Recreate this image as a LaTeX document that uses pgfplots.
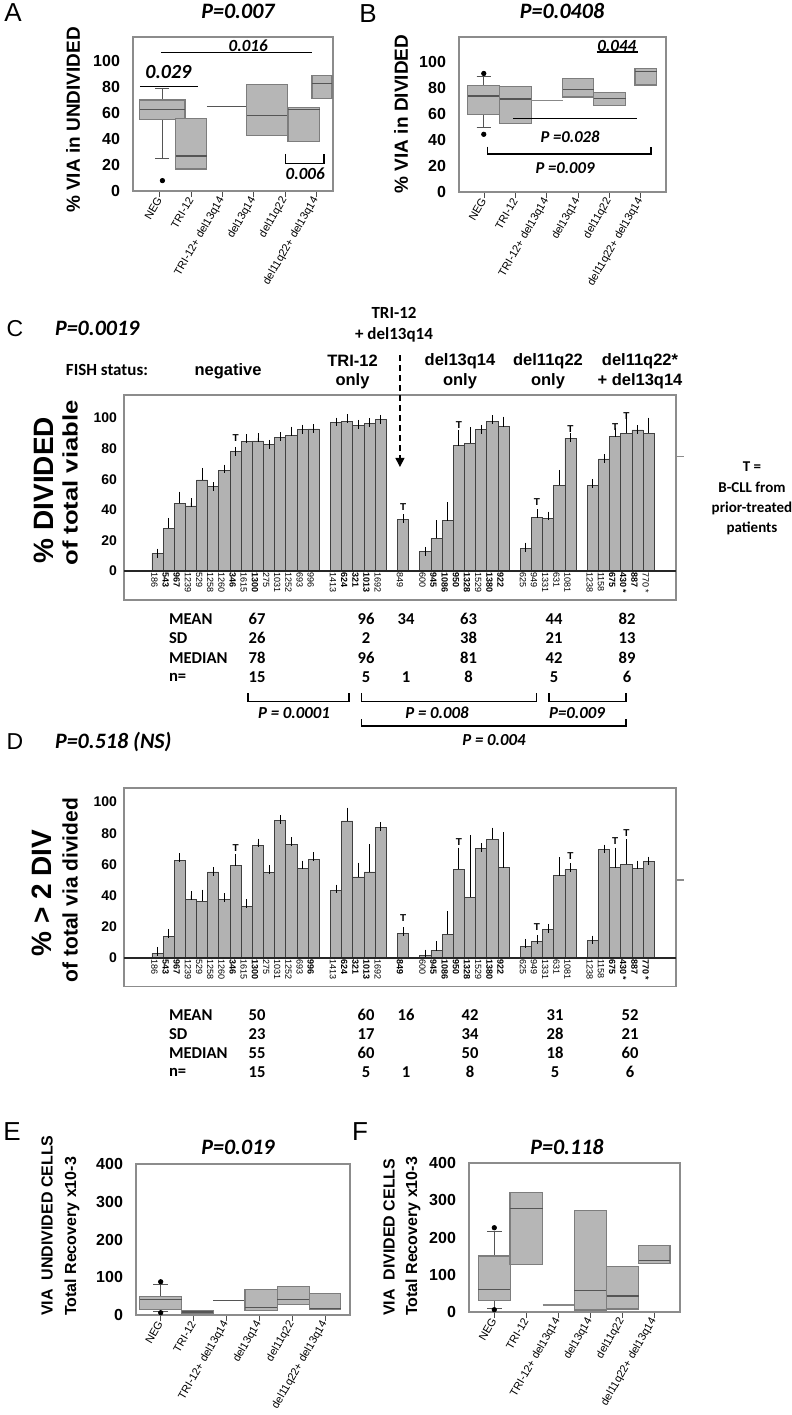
\documentclass[border=0pt]{standalone}
\usepackage{fontspec}
\setmainfont{Liberation Sans}
\newfontfamily\calib{Carlito}
\usepackage{graphicx}
\usepackage{pgfplots}
\pgfplotsset{compat=1.18}
\usepgfplotslibrary{statistics}
\usetikzlibrary{arrows.meta}
\definecolor{boxfill}{RGB}{182,182,182}
\definecolor{boxedge}{RGB}{125,125,125}
\definecolor{medline}{RGB}{85,85,85}
\definecolor{barfill}{RGB}{178,178,178}
\definecolor{frame}{RGB}{140,140,140}
\newcommand{\fs}[1]{\fontsize{#1}{#1}\selectfont}
\newcommand{\pv}{\calib\bfseries\itshape}
\pgfplotsset{
 boxax/.style={
  scale only axis, clip=false,
  axis line style={draw=frame, line width=0.6pt},
  ymin=0,
  xtick={0,...,5},
  xtick pos=left,
  xticklabels={NEG,TRI-12,TRI-12+ del13q14,del13q14,del11q22,del11q22+ del13q14},
  xticklabel style={rotate=60, anchor=east, font=\fs{5.5}, inner sep=0.5pt},
  tick align=outside,
  xtick style={draw=black!70, line width=0.5pt},
  major tick length=3pt,
  ytick style={draw=none},
  yticklabel style={font=\fs{8}\bfseries},
  /pgf/number format/assume math mode=true,
  boxplot/draw direction=y,
  boxplot/every box/.style={fill=boxfill, draw=boxedge, line width=0.6pt},
  boxplot/every median/.style={draw=medline, line width=0.6pt},
  boxplot/every whisker/.style={draw=medline, line width=0.5pt},
 },
 bx/.style={fill=boxfill, draw=boxedge, mark=*, mark size=1.1pt, mark options={fill=black, draw=black}},
 cdax/.style={
  scale only axis, clip=false,
  axis line style={draw=none},
  ymin=0, xmin=-3, xmax=46.45,
  ytick={0,20,...,100},
  tick style={draw=none},
  yticklabel style={font=\fs{7}\bfseries},
  xticklabel style={rotate=-90, anchor=west, font=\fs{4.5}, inner sep=0.3pt, yshift=-1.5pt},
  xtick={0,1,2,3,4,5,6,7,8,9,10,11,12,13,14,16,17,18,19,20,22,24,25,26,27,28,29,30,31,33,34,35,36,37,39,40,41,42,43,44},
  /pgf/number format/assume math mode=true,
 },
 barst/.style={ybar, bar width=1, fill=barfill, draw=black!75, line width=0.4pt,
   error bars/.cd, y dir=plus, y explicit,
   error bar style={black, line width=0.4pt},
   error mark options={black, mark size=2.2pt, line width=0.4pt}},
 tst/.style={only marks, black, mark=text, text mark={\fs{5}\bfseries T}},
}
\begin{document}
\begin{tikzpicture}
\path[use as bounding box] (0pt,0pt) rectangle (396pt,-707.5pt);

% ---------------- Panel A ----------------
\begin{axis}[boxax, at={(66.5pt,-95.5pt)}, anchor=south west, width=100pt, height=77pt,
  xmin=-0.86, xmax=5.53, ymax=118.5, ytick={0,20,...,100}]
\addplot[bx, boxplot prepared={draw position=0.08, box extend=1.44, lower whisker=25, lower quartile=55, median=63, upper quartile=70, upper whisker=79, whisker extend=0.45}] table[row sep=\\, y index=0] {y\\ 8\\};
\addplot[bx, boxplot prepared={draw position=1.0, box extend=1.0, lower whisker=17, lower quartile=17, median=27, upper quartile=56, upper whisker=56, whisker extend=0}] coordinates {};
\addplot[draw=medline, line width=0.6pt] coordinates {(1.5,65) (2.78,65)};
\addplot[bx, boxplot prepared={draw position=3.43, box extend=1.31, lower whisker=43, lower quartile=43, median=58, upper quartile=82, upper whisker=82, whisker extend=0}] coordinates {};
\addplot[bx, boxplot prepared={draw position=4.6, box extend=1.02, lower whisker=38, lower quartile=38, median=63, upper quartile=64, upper whisker=64, whisker extend=0}] coordinates {};
\addplot[bx, boxplot prepared={draw position=5.18, box extend=0.64, lower whisker=71, lower quartile=71, median=83, upper quartile=89, upper whisker=89, whisker extend=0}] coordinates {};
\draw[black, line width=0.6pt] (axis cs:0.03,106.4) -- (axis cs:4.85,106.4);
\node[font=\fs{8.5}\pv] at (axis cs:2.82,111.5) {0.016};
\node[font=\fs{10}\pv] at (axis cs:0.27,91.5) {0.029};
\draw[black, line width=0.6pt] (axis cs:-0.64,80.5) -- (axis cs:1.22,80.5);
\draw[black, line width=0.7pt] (axis cs:4.02,28.5) -- (axis cs:4.02,21.3) -- (axis cs:5.24,21.3) -- (axis cs:5.24,28.5);
\node[font=\fs{8.5}\pv] at (axis cs:4.64,13.5) {0.006};
\end{axis}

% ---------------- Panel B ----------------
\begin{axis}[boxax, at={(229.5pt,-96pt)}, anchor=south west, width=103.5pt, height=77.5pt,
  xmin=-0.8, xmax=5.8, ymax=119, ytick={0,20,...,100}]
\addplot[bx, boxplot prepared={draw position=-0.01, box extend=1.02, lower whisker=49.7, lower quartile=59.3, median=73.7, upper quartile=82, upper whisker=89, whisker extend=0.45}] table[row sep=\\, y index=0] {y\\ 91\\ 44.3\\};
\addplot[bx, boxplot prepared={draw position=1.005, box extend=1.01, lower whisker=52.8, lower quartile=52.8, median=71.4, upper quartile=80.7, upper whisker=80.7, whisker extend=0}] coordinates {};
\addplot[draw=medline!70, line width=0.6pt] coordinates {(1.51,70) (2.5,70)};
\addplot[bx, boxplot prepared={draw position=3.0, box extend=1.0, lower whisker=72.9, lower quartile=72.9, median=78.6, upper quartile=86.9, upper whisker=86.9, whisker extend=0}] coordinates {};
\addplot[bx, boxplot prepared={draw position=4.005, box extend=1.01, lower whisker=66.5, lower quartile=66.5, median=71.9, upper quartile=76.5, upper whisker=76.5, whisker extend=0}] coordinates {};
\addplot[bx, boxplot prepared={draw position=5.155, box extend=0.69, lower whisker=82.2, lower quartile=82.2, median=92.8, upper quartile=95, upper whisker=95, whisker extend=0}] coordinates {};
\node[font=\fs{8.5}\pv] at (axis cs:4.23,112.3) {0.044};
\draw[black, line width=0.6pt] (axis cs:3.59,107.5) -- (axis cs:4.92,107.5);
\draw[black, line width=0.6pt] (axis cs:0.93,56.2) -- (axis cs:4.89,56.2);
\node[font=\fs{8.3}\pv] at (axis cs:2.74,42.5) {P =0.028};
\draw[black, line width=0.7pt] (axis cs:0.1,34.8) -- (axis cs:0.1,29.1) -- (axis cs:5.32,29.1) -- (axis cs:5.32,34.8);
\node[font=\fs{8.3}\pv] at (axis cs:2.58,18) {P =0.009};
\end{axis}

% ---------------- Panel C ----------------
\begin{axis}[cdax, at={(62pt,-285.5pt)}, anchor=south west, width=276pt, height=88pt, ymax=115,
  xticklabels={186,\textbf{543},\textbf{967},1239,529,1258,1260,\textbf{346},1615,\textbf{1300},275,1031,1252,693,996,1413,\textbf{624},\textbf{321},\textbf{1013},1692,849,600,\textbf{945},\textbf{1086},\textbf{950},\textbf{1328},1529,\textbf{1380},\textbf{922},625,949,1331,631,1081,1238,1158,\textbf{675},\textbf{430 *},\textbf{887},770 *}]
\draw[frame, line width=0.6pt] (axis cs:-3,-19) rectangle (axis cs:46.45,115);
\addplot[barst] coordinates {
(0,11.5) +- (0,0.2) (1,27.9) +- (0,4) (2,44.2) +- (0,4.8) (3,42.5) +- (0,2.2) (4,59.5) +- (0,5)
(5,55) +- (0,0.2) (6,65.6) +- (0,1) (7,78) +- (0,0.2) (8,84.5) +- (0,2) (9,85) +- (0,2)
(10,82.5) +- (0,0.3) (11,87.2) +- (0,0.5) (12,88.5) +- (0,3) (13,92.4) +- (0,0.3) (14,92.8) +- (0,0.2)
(16,97) +- (0,0.3) (17,98) +- (0,1.5) (18,95.3) +- (0,0.5) (19,96.4) +- (0,0.5) (20,99) +- (0,0.2)
(22,33.8) +- (0,0.3)
(24,12.6) +- (0,0.3) (25,21.3) +- (0,9) (26,32.9) +- (0,9) (27,82) +- (0,7) (28,83.4) +- (0,7.6)
(29,92.3) +- (0,0.3) (30,97.6) +- (0,1.4) (31,94.3) +- (0,3.7)
(33,14.8) +- (0,0.8) (34,35.1) +- (0,2.5) (35,34.2) +- (0,1.8) (36,56.2) +- (0,7) (37,86.8) +- (0,0.3)
(39,56) +- (0,1.4) (40,73.2) +- (0,0.3) (41,87.8) +- (0,3) (42,90) +- (0,7) (43,92.2) +- (0,0.3) (44,90) +- (0,7.3)
};
\addplot[tst] coordinates {(7,86.7) (22,42) (27,95.4) (34,45.3) (37,92.6) (41,94.3) (42,101.3)};
\draw[black!85, line width=0.6pt] (axis cs:-3,0) -- (axis cs:46.45,0);
\draw[frame, line width=0.6pt] (axis cs:46.45,75) -- (axis cs:47.2,75);
\draw[black, dashed, dash pattern=on 3pt off 2pt, line width=0.7pt, -{Triangle[length=4.5pt,width=4.5pt]}] (axis cs:21.72,141) -- (axis cs:21.72,68);
\end{axis}

% ---------------- Panel D ----------------
\begin{axis}[cdax, at={(62pt,-479pt)}, anchor=south west, width=276pt, height=85pt, ymax=109,
  xticklabels={186,\textbf{543},\textbf{967},1239,529,1258,1260,\textbf{346},1615,\textbf{1300},275,1031,1252,693,\textbf{996},1413,\textbf{624},\textbf{321},\textbf{1013},1692,\textbf{849},600,\textbf{945},\textbf{1086},\textbf{950},\textbf{1328},1529,\textbf{1380},\textbf{922},625,949,1331,631,1081,1238,1158,\textbf{675},\textbf{430 *},\textbf{887},\textbf{770 *}}]
\draw[frame, line width=0.6pt] (axis cs:-3,-18.5) rectangle (axis cs:46.45,109);
\addplot[barst] coordinates {
(0,3) +- (0,1.3) (1,14) +- (0,1.8) (2,62.7) +- (0,1.7) (3,37.8) +- (0,2.3) (4,36.5) +- (0,4.5)
(5,55.2) +- (0,0.3) (6,37.8) +- (0,0.9) (7,59.1) +- (0,4.7) (8,33.3) +- (0,1.7) (9,72.3) +- (0,1.5)
(10,54.8) +- (0,2) (11,88.3) +- (0,0.5) (12,73) +- (0,1.7) (13,57.4) +- (0,2.2) (14,63.4) +- (0,1.6)
(16,43.1) +- (0,1.1) (17,87.9) +- (0,5.7) (18,52) +- (0,6.4) (19,55.2) +- (0,14.8) (20,84) +- (0,0.3)
(22,15.8) +- (0,1)
(24,1.5) +- (0,1.1) (25,4.7) +- (0,3.2) (26,15.1) +- (0,12) (27,57) +- (0,11) (28,38.8) +- (0,37.2)
(29,70.2) +- (0,0.5) (30,76) +- (0,4.8) (31,58) +- (0,19.7)
(33,7.7) +- (0,1.7) (34,10.4) +- (0,1.5) (35,18.6) +- (0,0.5) (36,52.7) +- (0,9) (37,56.7) +- (0,1.2)
(39,11) +- (0,0.5) (40,69.6) +- (0,0.3) (41,58) +- (0,10) (42,60) +- (0,13.4) (43,57.4) +- (0,2.2) (44,62) +- (0,0.2)
};
\addplot[tst] coordinates {(7,70.2) (22,25.4) (27,74.4) (34,20) (37,65.3) (41,75) (42,79.8)};
\draw[black!85, line width=0.6pt] (axis cs:-3,0) -- (axis cs:46.45,0);
\draw[frame, line width=0.6pt] (axis cs:46.45,50) -- (axis cs:47.2,50);
\end{axis}

% ---------------- Panel E ----------------
\begin{axis}[boxax, at={(68pt,-657.5pt)}, anchor=south west, width=107pt, height=75.5pt,
  xmin=-0.75, xmax=5.75, ymax=400, ytick={0,100,...,400}]
\addplot[bx, boxplot prepared={draw position=0, box extend=1.27, lower whisker=10, lower quartile=15, median=41.8, upper quartile=48.9, upper whisker=82, whisker extend=0.45}] table[row sep=\\, y index=0] {y\\ 88\\ 6\\};
\addplot[bx, boxplot prepared={draw position=1.12, box extend=0.96, lower whisker=3, lower quartile=3, median=8, upper quartile=13, upper whisker=13, whisker extend=0}] coordinates {};
\addplot[draw=medline, line width=0.6pt] coordinates {(1.6,38) (2.56,38)};
\addplot[bx, boxplot prepared={draw position=3.05, box extend=0.98, lower whisker=11.6, lower quartile=11.6, median=20.4, upper quartile=68.4, upper whisker=68.4, whisker extend=0}] coordinates {};
\addplot[bx, boxplot prepared={draw position=4.03, box extend=0.98, lower whisker=28.4, lower quartile=28.4, median=41.8, upper quartile=75.6, upper whisker=75.6, whisker extend=0}] coordinates {};
\addplot[bx, boxplot prepared={draw position=4.995, box extend=0.95, lower whisker=15, lower quartile=15, median=18, upper quartile=58, upper whisker=58, whisker extend=0}] coordinates {};
\end{axis}

% ---------------- Panel F ----------------
\begin{axis}[boxax, at={(234.5pt,-656pt)}, anchor=south west, width=105.5pt, height=74.5pt,
  xmin=-0.79, xmax=5.8, ymax=400, ytick={0,100,...,400}]
\addplot[bx, boxplot prepared={draw position=0, box extend=1.0, lower whisker=10.7, lower quartile=30.3, median=61.5, upper quartile=150.6, upper whisker=215.6, whisker extend=0.45}] table[row sep=\\, y index=0] {y\\ 226.3\\ 6.2\\};
\addplot[bx, boxplot prepared={draw position=1.0, box extend=1.02, lower whisker=128.3, lower quartile=128.3, median=278, upper quartile=320.7, upper whisker=320.7, whisker extend=0}] coordinates {};
\addplot[draw=medline!70, line width=0.6pt] coordinates {(1.51,18.7) (2.5,18.7)};
\addplot[bx, boxplot prepared={draw position=3.005, box extend=1.01, lower whisker=5.3, lower quartile=5.3, median=58.8, upper quartile=271.7, upper whisker=271.7, whisker extend=0}] coordinates {};
\addplot[bx, boxplot prepared={draw position=4.01, box extend=1.0, lower whisker=8, lower quartile=8, median=42.8, upper quartile=122, upper whisker=122, whisker extend=0}] coordinates {};
\addplot[bx, boxplot prepared={draw position=5.0, box extend=0.98, lower whisker=131, lower quartile=131, median=139, upper quartile=179, upper whisker=179, whisker extend=0}] coordinates {};
\end{axis}

% ---------------- Text annotations (pixel coordinates) ----------------
\begin{scope}[x=0.5pt,y=-0.5pt]
% panel letters
\node[font=\fs{13}] at (13,13) {A};
\node[font=\fs{13}] at (368,14) {B};
\node[font=\fs{11.5}] at (15,329) {C};
\node[font=\fs{11.5}] at (15,742) {D};
\node[font=\fs{13}] at (12,1132) {E};
\node[font=\fs{13}] at (360,1132) {F};
% titles
\node[font=\fs{11}\pv] at (238,11) {P=0.007};
\node[font=\fs{11}\pv] at (562,11) {P=0.0408};
\node[font=\fs{11}\pv, anchor=west] at (48,328) {P=0.0019};
\node[font=\fs{11}\pv, anchor=west] at (48,742) {P=0.518 (NS)};
\node[font=\fs{11}\pv] at (238,1147) {P=0.019};
\node[font=\fs{11}\pv] at (567,1147) {P=0.118};
% y labels A, B
\node[font=\fs{9.5}\bfseries, rotate=90] at (73,120) {\% VIA in UNDIVIDED};
\node[font=\fs{9.5}\bfseries, rotate=90] at (401,114) {\% VIA in DIVIDED};
% y labels C, D
\node[font=\fs{14}\bfseries, rotate=90] at (44,490) {\% DIVIDED};
\node[font=\fs{10.5}\bfseries, rotate=90] at (70,483) {\scalebox{1.22}[1]{of total viable}};
\node[font=\fs{14}\bfseries, rotate=90] at (42,893) {\% > 2 DIV};
\node[font=\fs{10.5}\bfseries, rotate=90] at (70,890) {of total via divided};
% y labels E, F
\node[font=\fs{8}\bfseries, rotate=90, anchor=west] at (47,1323) {VIA\ \ UNDIVIDED CELLS};
\node[font=\fs{8}\bfseries, rotate=90, anchor=west] at (72,1323) {Total Recovery x10-3};
\node[font=\fs{8}\bfseries, rotate=90, anchor=west] at (389,1323) {VIA\ \ DIVIDED CELLS};
\node[font=\fs{8}\bfseries, rotate=90, anchor=west] at (413,1323) {Total Recovery x10-3};
% C header labels
\node[font=\fs{8.5}\calib\bfseries] at (394,313) {TRI-12};
\node[font=\fs{8.5}\calib\bfseries] at (394,335) {+ del13q14};
\node[font=\fs{8.5}\calib\bfseries, anchor=east] at (155,370) {FISH status:};
\node[font=\fs{8.25}\bfseries] at (228,371) {negative};
\node[font=\fs{8.25}\bfseries] at (352.5,361) {TRI-12};
\node[font=\fs{8.25}\bfseries] at (352.5,381) {only};
\node[font=\fs{8.25}\bfseries] at (460,361) {del13q14};
\node[font=\fs{8.25}\bfseries] at (460,381) {only};
\node[font=\fs{8.25}\bfseries] at (548,361) {del11q22};
\node[font=\fs{8.25}\bfseries] at (548,381) {only};
\node[font=\fs{8.25}\bfseries] at (640,361) {del11q22*};
\node[font=\fs{8.25}\bfseries] at (640,381) {+ del13q14};
% legend T
\node[font=\fs{7.5}\calib\bfseries] at (752,467) {T =};
\node[font=\fs{7.5}\calib\bfseries] at (752,487) {B-CLL from};
\node[font=\fs{7.5}\calib\bfseries] at (752,508) {prior-treated};
\node[font=\fs{7.5}\calib\bfseries] at (752,528) {patients};
% stats C and D
\begin{scope}[font=\fs{8.3}\calib\bfseries]
\node[anchor=west] at (162,619) {MEAN};
\node[anchor=west] at (162,638) {SD};
\node[anchor=west] at (162,658) {MEDIAN};
\node[anchor=west] at (162,677) {n=};
\foreach \c/\a/\b/\m/\n in {257/67/26/78/15, 366/96/2/96/5, 406/34//{}/1, 468.5/63/38/81/8, 554/44/21/42/5, 627/82/13/89/6}{
  \node at (\c,619) {\a}; \node at (\c,638) {\b}; \node at (\c,658) {\m}; \node at (\c,677) {\n};
}
\node[anchor=west] at (162,1015) {MEAN};
\node[anchor=west] at (162,1034) {SD};
\node[anchor=west] at (162,1053) {MEDIAN};
\node[anchor=west] at (162,1072) {n=};
\foreach \c/\a/\b/\m/\n in {257/50/23/55/15, 366/60/17/60/5, 406/16//{}/1, 470/42/34/50/8, 555/31/28/18/5, 630/52/21/60/6}{
  \node at (\c,1015) {\a}; \node at (\c,1034) {\b}; \node at (\c,1053) {\m}; \node at (\c,1072) {\n};
}
\end{scope}
% brackets C
\begin{scope}[line width=0.6pt]
\draw (248,693) -- (248,701.7) -- (349,701.7) -- (349,693);
\draw (361.7,693) -- (361.7,701.7) -- (536.7,701.7) -- (536.7,693);
\draw (549,693) -- (549,701.7) -- (626,701.7) -- (626,693);
\draw (361.7,719) -- (361.7,726) -- (626,726) -- (626,719);
\end{scope}
\node[font=\fs{8.4}\pv] at (294,713) {P = 0.0001};
\node[font=\fs{8.4}\pv] at (437,713) {P = 0.008};
\node[font=\fs{8.4}\pv] at (577,713) {P=0.009};
\node[font=\fs{8.4}\pv] at (494,740) {P = 0.004};
\end{scope}
\end{tikzpicture}
\end{document}
